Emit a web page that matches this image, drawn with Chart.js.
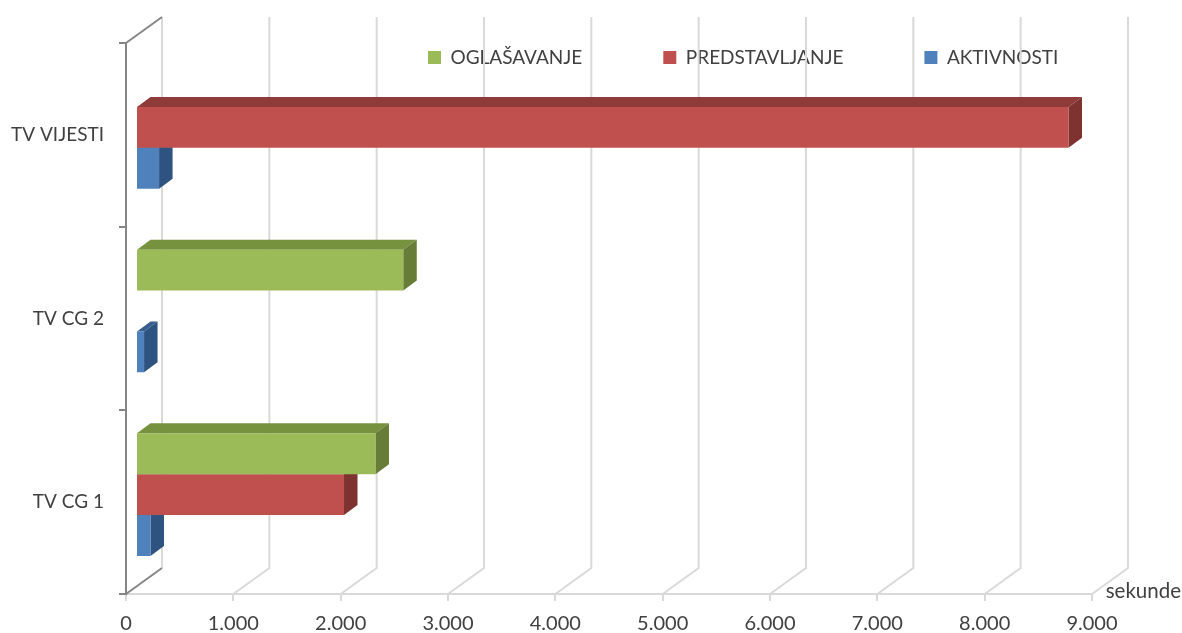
<!DOCTYPE html>
<html>
<head>
<meta charset="utf-8">
<title>TV</title>
<script src="https://cdn.jsdelivr.net/npm/chart.js@4"></script>
<style>
  html, body { margin: 0; background: #fff; }
  canvas { display: block; }
</style>
</head>
<body>
<canvas id="chart" width="1182" height="633"></canvas>
<script>
const categories = ['TV VIJESTI', 'TV CG 2', 'TV CG 1']
const oglasavanje = [null, 2490, 2231]
const predstavljanje = [8688, null, 1938]
const aktivnosti = [215, 75, 135]
const xTickLabels = ['0', '1.000', '2.000', '3.000', '4.000', '5.000', '6.000', '7.000', '8.000', '9.000']

const fontFamily = 'Lato, sans-serif'
const textColor = '#404040'
const wallColor = '#d9d9d9'
const axisColor = '#868686'

// offsets of the fake 3d box: back wall, bar plane, bar depth
const wall = { x: 36, y: -26 }
const plane = { x: 10, y: -7.5 }
const depth = { x: 13.5, y: -10 }

// back wall and floor lines, taken from the x scale ticks
const wallPlugin = {
  id: 'wall',
  beforeDraw(chart) {
    // legend sits inside the plot, on the wall
    const legend = chart.legend
    legend.left = 347
    legend.right = chart.width
    legend.top = -33
    legend.bottom = legend.top + legend.height
  },
  beforeDatasetsDraw(chart) {
    const { ctx, scales: { x }, chartArea } = chart
    ctx.save()
    ctx.lineWidth = 2
    x.ticks.forEach((tick) => {
      const px = x.getPixelForValue(tick.value)
      ctx.strokeStyle = wallColor
      ctx.beginPath()
      ctx.moveTo(px + wall.x, chartArea.top + wall.y)
      ctx.lineTo(px + wall.x, chartArea.bottom + wall.y)
      if (tick.value > 0) ctx.lineTo(px, chartArea.bottom)
      ctx.stroke()
    })
    ctx.strokeStyle = axisColor
    ;[chartArea.top, chartArea.bottom].forEach((y) => {
      ctx.beginPath()
      ctx.moveTo(chartArea.left, y)
      ctx.lineTo(chartArea.left + wall.x, y + wall.y)
      ctx.stroke()
    })
    ctx.restore()
  },
  beforeDatasetDraw(chart, args) {
    const { ctx } = chart
    const ds = chart.data.datasets[args.index]
    ctx.save()
    ctx.translate(plane.x, plane.y)
    args.meta.data.forEach((bar, i) => {
      if (ds.data[i] === null) return
      const { x, y, base, height } = bar.getProps(['x', 'y', 'base', 'height'], true)
      const top = y - height / 2
      const bottom = y + height / 2
      ctx.fillStyle = ds.topColor
      ctx.beginPath()
      ctx.moveTo(base, top)
      ctx.lineTo(base + depth.x, top + depth.y)
      ctx.lineTo(x + depth.x, top + depth.y)
      ctx.lineTo(x, top)
      ctx.closePath()
      ctx.fill()
      ctx.fillStyle = ds.sideColor
      ctx.beginPath()
      ctx.moveTo(x, top)
      ctx.lineTo(x + depth.x, top + depth.y)
      ctx.lineTo(x + depth.x, bottom + depth.y)
      ctx.lineTo(x, bottom)
      ctx.closePath()
      ctx.fill()
    })
  },
  afterDatasetDraw(chart) {
    chart.ctx.restore()
  },
  afterDraw(chart) {
    const { ctx } = chart
    ctx.save()
    ctx.font = '20.5px ' + fontFamily
    ctx.fillStyle = textColor
    ctx.textBaseline = 'middle'
    ctx.textAlign = 'right'
    ctx.fillText('sekunde', 1181, 591)
    ctx.restore()
  }
}

new Chart(document.getElementById('chart'), {
  type: 'bar',
  plugins: [wallPlugin],
  data: {
    labels: categories,
    datasets: [
      { label: 'OGLAŠAVANJE', data: oglasavanje, backgroundColor: '#9bbb59', topColor: '#76923f', sideColor: '#677c37' },
      { label: 'PREDSTAVLJANJE', data: predstavljanje, backgroundColor: '#c0504d', topColor: '#8e3b39', sideColor: '#7f3331' },
      { label: 'AKTIVNOSTI', data: aktivnosti, backgroundColor: '#4f81bd', topColor: '#375e8e', sideColor: '#2f5380' }
    ]
  },
  options: {
    indexAxis: 'y',
    responsive: false,
    animation: false,
    categoryPercentage: 0.668,
    barPercentage: 1,
    layout: { padding: { top: -67, right: 90 } },
    plugins: {
      tooltip: { enabled: false },
      legend: {
        position: 'top',
        align: 'start',
        labels: { font: { family: fontFamily, size: 19 }, color: textColor, boxWidth: 13, boxHeight: 13, padding: 81 }
      }
    },
    scales: {
      x: {
        min: 0,
        max: 9000,
        afterFit: (scale) => { scale.height = 39 },
        border: { color: wallColor, width: 2 },
        grid: { drawOnChartArea: false, color: wallColor, lineWidth: 2, tickLength: 7 },
        ticks: {
          stepSize: 1000,
          autoSkip: false,
          maxRotation: 0,
          font: { family: fontFamily, size: 20 },
          color: textColor,
          padding: 11,
          callback: (value, i) => xTickLabels[i]
        }
      },
      y: {
        afterFit: (scale) => { scale.width = 126 },
        border: { color: axisColor, width: 2 },
        grid: { drawOnChartArea: false, color: axisColor, lineWidth: 2, tickLength: 7 },
        ticks: { font: { family: fontFamily, size: 19 }, color: textColor, padding: 15 }
      }
    }
  }
})
</script>
</body>
</html>
